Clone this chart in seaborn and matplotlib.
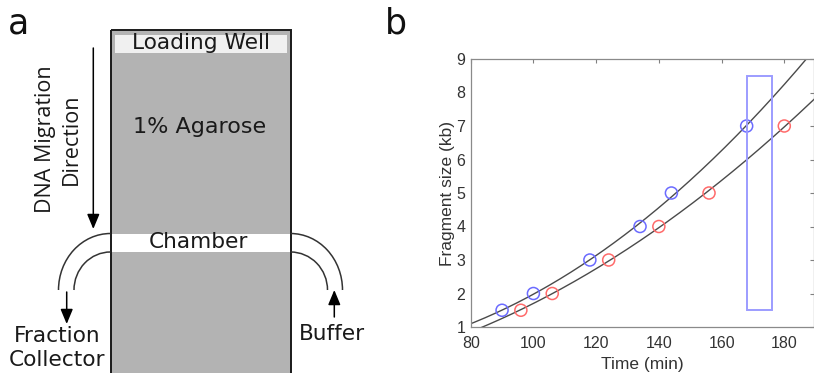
import numpy as np
import pandas as pd
import matplotlib
matplotlib.use("Agg")
import matplotlib.pyplot as plt
import seaborn as sns
from matplotlib.patches import Rectangle, Arc

# Fragment sizes (kb) against elution time (min) for the two runs
blue_time = [90, 100, 118, 134, 144, 168]
blue_size = [1.5, 2, 3, 4, 5, 7]
red_time = [96, 106, 124, 140, 156, 180]
red_size = [1.5, 2, 3, 4, 5, 7]

# Collection window marked on the calibration plot
window_time = [168, 176]
window_size = [1.5, 8.5]

x_ticks = [80, 100, 120, 140, 160, 180]
y_ticks = [1, 2, 3, 4, 5, 6, 7, 8, 9]

sns.set_theme(style="white")
plt.rcParams["font.family"] = ["DejaVu Sans"]

W, H = 814, 373
fig = plt.figure(figsize=(W / 100, H / 100), dpi=100)

# ---------------- panel a: gel schematic (pixel coordinates) ----------------
axa = fig.add_axes([0, 0, 390 / W, 1])
axa.set_xlim(0, 390)
axa.set_ylim(H, 0)
axa.axis("off")

gel_x0, gel_x1, gel_top = 110.5, 290.5, 29.5
axa.add_patch(Rectangle((gel_x0, gel_top), gel_x1 - gel_x0, 400,
                        facecolor="#b3b3b3", edgecolor="none", zorder=1))
axa.add_patch(Rectangle((114.5, 34.5), 172, 18.5,
                        facecolor="#f0f0f0", edgecolor="none", zorder=2))
axa.add_patch(Rectangle((gel_x0, 233.5), gel_x1 - gel_x0, 18.5,
                        facecolor="white", edgecolor="none", zorder=2))
axa.add_patch(Rectangle((gel_x0, gel_top), gel_x1 - gel_x0, 400,
                        facecolor="none", edgecolor="#1a1a1a", lw=1.4, zorder=3))

pipe_kw = dict(color="#333333", lw=1.1, zorder=3)
# outlet tubing (left) and buffer inlet (right)
axa.add_patch(Arc((gel_x0, 290), 2 * 52, 2 * 56.5, theta1=180, theta2=270, **pipe_kw))
axa.add_patch(Arc((gel_x0, 290), 2 * 36.5, 2 * 38, theta1=180, theta2=270, **pipe_kw))
axa.add_patch(Arc((gel_x1, 290), 2 * 52, 2 * 56.5, theta1=270, theta2=360, **pipe_kw))
axa.add_patch(Arc((gel_x1, 290), 2 * 37, 2 * 38, theta1=270, theta2=360, **pipe_kw))

arrow_kw = dict(arrowstyle="-|>,head_length=0.6,head_width=0.25",
                color="black", lw=1.1, mutation_scale=15, shrinkA=0, shrinkB=0)
axa.annotate("", xy=(93.3, 229), xytext=(93.3, 48), arrowprops=arrow_kw)
axa.annotate("", xy=(66.7, 324), xytext=(66.7, 292), arrowprops=arrow_kw)
axa.annotate("", xy=(334.3, 290), xytext=(334.3, 317), arrowprops=arrow_kw)

txt_kw = dict(fontsize=15.6, color="#1a1a1a", ha="center", va="center")
axa.text(200.5, 43, "Loading Well", zorder=4, **txt_kw)
axa.text(199.5, 127, "1% Agarose", zorder=4, fontsize=16, color="#1a1a1a",
         ha="center", va="center")
axa.text(198.5, 242.5, "Chamber", zorder=4, **txt_kw)
axa.text(58.5, 139.5, "DNA Migration\nDirection", rotation=90, linespacing=1.27,
         fontsize=15.5, color="#1a1a1a", ha="center", va="center",
         family=["Open Sans", "DejaVu Sans"])
axa.text(57, 348, "Fraction\nCollector", linespacing=1.25, **txt_kw)
axa.text(331.5, 334.5, "Buffer", **txt_kw)

fig.text(18.5 / W, 1 - 24 / H, "a", fontsize=25, ha="center", va="center", color="#111111")
fig.text(396 / W, 1 - 24 / H, "b", fontsize=25, ha="center", va="center", color="#111111")

# ---------------- panel b: size calibration ----------------
left, right, top, bottom = 470.7, 813.5, 59, 327
axb = fig.add_axes([left / W, 1 - bottom / H, (right - left) / W, (bottom - top) / H])

t_grid = np.linspace(78, 192, 300)
for times, sizes in [(blue_time, blue_size), (red_time, red_size)]:
    coef = np.polyfit(times, sizes, 2)
    sns.lineplot(x=t_grid, y=np.polyval(coef, t_grid), color="#4a4a4a", lw=1.0,
                 ax=axb, zorder=2)

sns.scatterplot(x=blue_time, y=blue_size, ax=axb, marker="o", s=75,
                facecolor="none", edgecolor="#6b6bff", linewidth=1.1, zorder=3)
sns.scatterplot(x=red_time, y=red_size, ax=axb, marker="o", s=75,
                facecolor="none", edgecolor="#ff6b6b", linewidth=1.1, zorder=3)

axb.add_patch(Rectangle((window_time[0], window_size[0]),
                        window_time[1] - window_time[0], window_size[1] - window_size[0],
                        fill=False, edgecolor="#9c9cff", lw=1.4, zorder=4))

axb.set_xlim(80, 80 + (right - left) / 3.136)
axb.set_ylim(1, 9)
axb.set_xticks(x_ticks)
axb.set_yticks(y_ticks)
tick_font = dict(family=["Liberation Sans", "DejaVu Sans"], size=11.5)
axb.set_xticklabels([str(v) for v in x_ticks], fontdict=tick_font, color="#333333")
axb.set_yticklabels([str(v) for v in y_ticks], fontdict=tick_font, color="#333333")
axb.tick_params(direction="in", length=3, width=0.8, color="#808080",
                top=True, right=True)
axb.tick_params(axis="x", pad=6.5)
axb.tick_params(axis="y", pad=4)
for sp in axb.spines.values():
    sp.set_color("#8a8a8a")
    sp.set_linewidth(0.9)
lab_font = dict(family=["Liberation Sans", "DejaVu Sans"], size=12.5, color="#333333")
axb.set_xlabel("Time (min)", labelpad=4.5, **lab_font)
axb.set_ylabel("Fragment size (kb)", labelpad=1, **lab_font)

fig.savefig("out.png", dpi=100)
